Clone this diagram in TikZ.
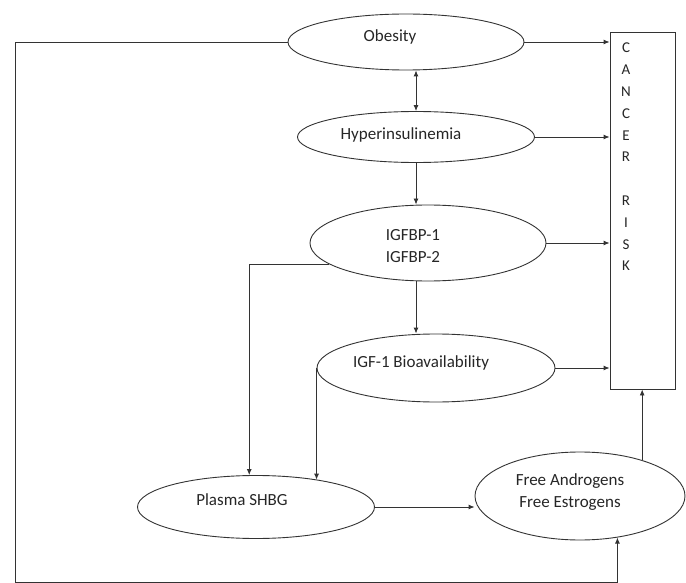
\documentclass[tikz,border=0pt]{standalone}
\usepackage{fontspec}
\setmainfont{Carlito}
\usetikzlibrary{shapes.geometric,arrows.meta,calc}
\begin{document}
\begin{tikzpicture}[x=1pt,y=-1pt,
  ell/.style={ellipse, draw=black!80, line width=0.9pt, inner sep=0pt},
  lab/.style={font=\fontsize{17}{22}\selectfont, align=center, text=black!85},
  conn/.style={draw=black!80, line width=0.9pt},
  arr/.style={conn, -{Latex[length=6pt,width=5pt]}},
  dbl/.style={conn, {Latex[length=6pt,width=5pt]}-{Latex[length=6pt,width=5pt]}}]
\useasboundingbox (0,0) rectangle (686,583);
% nodes
\node[ell, minimum width=236pt, minimum height=56pt,
  label={[lab, xshift=-16pt, yshift=5pt]center:Obesity}] (ob) at (406,42) {};
\node[ell, minimum width=237pt, minimum height=51pt,
  label={[lab, xshift=-15pt, yshift=2pt]center:Hyperinsulinemia}] (hy) at (416,137) {};
\node[ell, minimum width=236pt, minimum height=76pt,
  label={[lab, xshift=-15pt, yshift=-3pt]center:IGFBP-1\\IGFBP-2}] (ig) at (428,243) {};
\node[ell, minimum width=238pt, minimum height=68pt,
  label={[lab, xshift=-15pt, yshift=5pt]center:IGF-1 Bioavailability}] (igf) at (436,368) {};
\node[ell, minimum width=237pt, minimum height=63pt,
  label={[lab, xshift=-14pt, yshift=7pt]center:Plasma SHBG}] (pl) at (256,507) {};
\node[ell, minimum width=210pt, minimum height=88pt,
  label={[lab, xshift=-10pt, yshift=4pt]center:Free Androgens\\Free Estrogens}] (fa) at (580,496) {};
\node[draw=black!80, line width=0.9pt, minimum width=65pt, minimum height=357pt, inner sep=0pt] (box) at (642.5,210.5) {};
\node[lab, anchor=north, inner sep=0pt, font=\fontsize{15}{21.8}\selectfont] (risk) at (626,43)
  {C\\A\\N\\C\\E\\R\\[21.8pt]R\\I\\S\\K};
% corner coordinates
\coordinate (c1) at (15,42);
\coordinate (c2) at (15,582);
% connectors
\draw[arr] (ob.east) -- (ob.east -| box.west);
\draw[arr] (hy.east) -- (hy.east -| box.west);
\draw[arr] (ig.east) -- (ig.east -| box.west);
\draw[arr] (igf.east) -- (igf.east -| box.west);
\draw[dbl] (hy.north |- ob.south) -- (hy.north);
\draw[arr] (hy.south) -- (hy.south |- ig.north);
\draw[arr] (hy.south |- ig.south) -- (hy.south |- igf.north);
\draw[arr] (ig.192) -| (pl.102);
\draw[arr] (igf.west) -- (igf.west |- pl.24);
\draw[arr] (pl.east) -- (pl.east -| fa.west);
\draw[arr] (fa.30) -- (fa.30 |- box.south);
\draw[arr] (ob.west) -- (c1) -- (c2) -| (fa.-48);
\end{tikzpicture}
\end{document}
